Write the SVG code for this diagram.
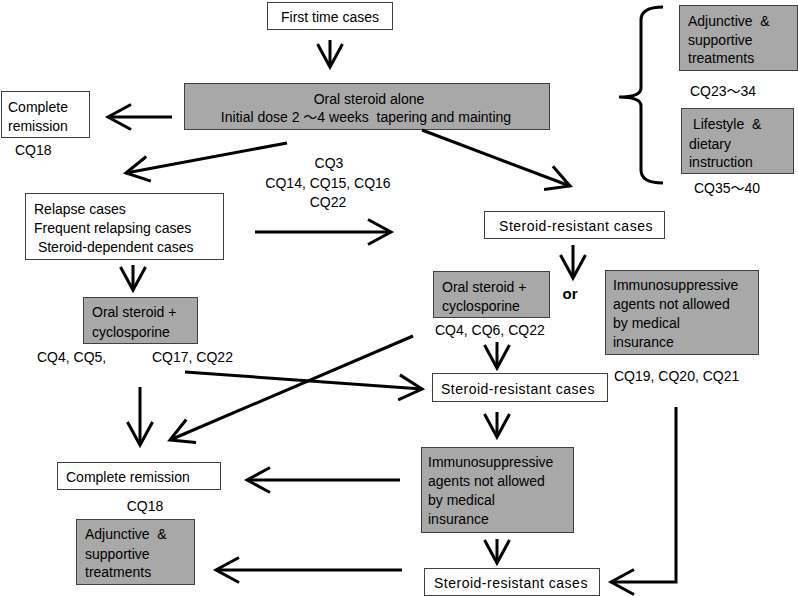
<svg xmlns="http://www.w3.org/2000/svg" width="798" height="596" viewBox="0 0 798 596">
<defs>
<marker id="arr" markerUnits="userSpaceOnUse" viewBox="-26 -15 30 30" refX="0" refY="0" markerWidth="30" markerHeight="30" orient="auto" overflow="visible">
<path d="M-23,-12.5 L0,0 L-23,12.5" fill="none" stroke="#000" stroke-width="3" stroke-linejoin="miter"/>
</marker>
</defs>
<style>
.box{fill:#fff;stroke:#404040;stroke-width:1}
.gbox{fill:#a8a8a8;stroke:#404040;stroke-width:1}
text{font-family:"Liberation Sans","Noto Sans CJK JP",sans-serif;font-size:14px;fill:#000;white-space:pre}
.c{text-anchor:middle}
.sr{letter-spacing:0.5px}
.con{fill:none;stroke:#000;stroke-width:3;marker-end:url(#arr)}
.plain{fill:none;stroke:#000;stroke-width:3}
</style>
<rect width="798" height="596" fill="#fff"/>

<g id="first">
<rect class="box" x="267.5" y="2.5" width="125" height="27"/>
<text x="330" y="22" class="c">First time cases</text>
</g>
<g id="oral-alone">
<rect class="gbox" x="184.5" y="83.5" width="365" height="46"/>
<text x="369" y="104" class="c">Oral steroid alone</text>
<text x="366" y="122" class="c" xml:space="preserve">Initial dose 2 〜4 weeks  tapering and mainting</text>
</g>
<g id="cr1">
<rect class="box" x="1.5" y="91.5" width="88" height="46"/>
<text x="8" y="112">Complete</text>
<text x="8" y="131">remission</text>
<text x="15" y="155">CQ18</text>
</g>
<g id="adj1">
<rect class="gbox" x="679.5" y="5.5" width="118" height="65"/>
<text x="688" y="26" xml:space="preserve">Adjunctive  &amp;</text>
<text x="688" y="45">supportive</text>
<text x="688" y="63">treatments</text>
<text x="690" y="96">CQ23〜34</text>
</g>
<g id="life">
<rect class="gbox" x="681.5" y="108.5" width="112" height="65"/>
<text x="689" y="129" xml:space="preserve"> Lifestyle  &amp;</text>
<text x="689" y="149">dietary</text>
<text x="689" y="167">instruction</text>
<text x="694" y="193">CQ35〜40</text>
</g>
<g id="brace">
<path class="plain" d="M663,7 Q641,7 641,20 L641,88 Q641,97 619,97 Q641,97 641,106 L641,170 Q641,183 663,183" stroke-width="2.5"/>
</g>
<g id="cq-mid">
<text x="329" y="168" class="c">CQ3</text>
<text x="328" y="188" class="c">CQ14, CQ15, CQ16</text>
<text x="328" y="207" class="c">CQ22</text>
</g>
<g id="relapse">
<rect class="box" x="25.5" y="193.5" width="198" height="66"/>
<text x="34" y="214">Relapse cases</text>
<text x="34" y="233">Frequent relapsing cases</text>
<text x="34" y="252" xml:space="preserve"> Steroid-dependent cases</text>
</g>
<g id="sr1">
<rect class="box" x="484.5" y="211.5" width="180" height="27"/>
<text x="576" y="231" class="c sr">Steroid-resistant cases</text>
</g>
<g id="or">
<text x="570" y="299" class="c" style="font-weight:bold;font-size:15px">or</text>
</g>
<g id="oc-right">
<rect class="gbox" x="433.5" y="271.5" width="116" height="46"/>
<text x="442" y="292">Oral steroid +</text>
<text x="442" y="311">cyclosporine</text>
<text x="435" y="335">CQ4, CQ6, CQ22</text>
</g>
<g id="immuno1">
<rect class="gbox" x="605.5" y="270.5" width="153" height="84"/>
<text x="613" y="290">Immunosuppressive</text>
<text x="613" y="309">agents not allowed</text>
<text x="613" y="328">by medical</text>
<text x="613" y="347">insurance</text>
<text x="614" y="381">CQ19, CQ20, CQ21</text>
</g>
<g id="oc-left">
<rect class="gbox" x="83.5" y="297.5" width="114" height="46"/>
<text x="92" y="317">Oral steroid +</text>
<text x="92" y="337">cyclosporine</text>
<text x="37" y="362">CQ4, CQ5,</text>
<text x="152" y="362">CQ17, CQ22</text>
</g>
<g id="sr2">
<rect class="box" x="432.5" y="373.5" width="175" height="28"/>
<text x="441" y="394" class="sr">Steroid-resistant cases</text>
</g>
<g id="cr2">
<rect class="box" x="57.5" y="462.5" width="163" height="27"/>
<text x="66" y="482">Complete remission</text>
<text x="145" y="511" class="c">CQ18</text>
</g>
<g id="adj2">
<rect class="gbox" x="76.5" y="519.5" width="118" height="65"/>
<text x="85" y="539" xml:space="preserve">Adjunctive  &amp;</text>
<text x="85" y="559">supportive</text>
<text x="85" y="577">treatments</text>
</g>
<g id="immuno2">
<rect class="gbox" x="421.5" y="447.5" width="152" height="85"/>
<text x="428" y="467">Immunosuppressive</text>
<text x="428" y="486">agents not allowed</text>
<text x="428" y="505">by medical</text>
<text x="428" y="524">insurance</text>
</g>
<g id="sr3">
<rect class="box" x="424.5" y="568.5" width="175" height="27"/>
<text x="434" y="588" class="sr">Steroid-resistant cases</text>
</g>

<g id="connectors">
<line class="con" x1="330" y1="40" x2="330" y2="67"/>
<line class="con" x1="172" y1="117" x2="108" y2="117"/>
<line class="con" x1="287" y1="143" x2="126" y2="173"/>
<line class="con" x1="422" y1="130" x2="570" y2="186"/>
<line class="con" x1="255" y1="232" x2="391" y2="232"/>
<line class="con" x1="573" y1="245" x2="573" y2="278"/>
<line class="con" x1="133" y1="265" x2="133" y2="290"/>
<line class="con" x1="497" y1="342" x2="497" y2="368"/>
<line class="con" x1="185" y1="372" x2="422" y2="389"/>
<line class="con" x1="413" y1="336" x2="170" y2="440"/>
<line class="con" x1="140" y1="387" x2="140" y2="445"/>
<line class="con" x1="497" y1="412" x2="497" y2="437"/>
<line class="con" x1="400" y1="480" x2="247" y2="480"/>
<line class="con" x1="497" y1="539" x2="497" y2="563"/>
<line class="con" x1="402" y1="570" x2="216" y2="570"/>
<polyline class="con" points="676,407 676,582 611,582"/>
</g>
</svg>
